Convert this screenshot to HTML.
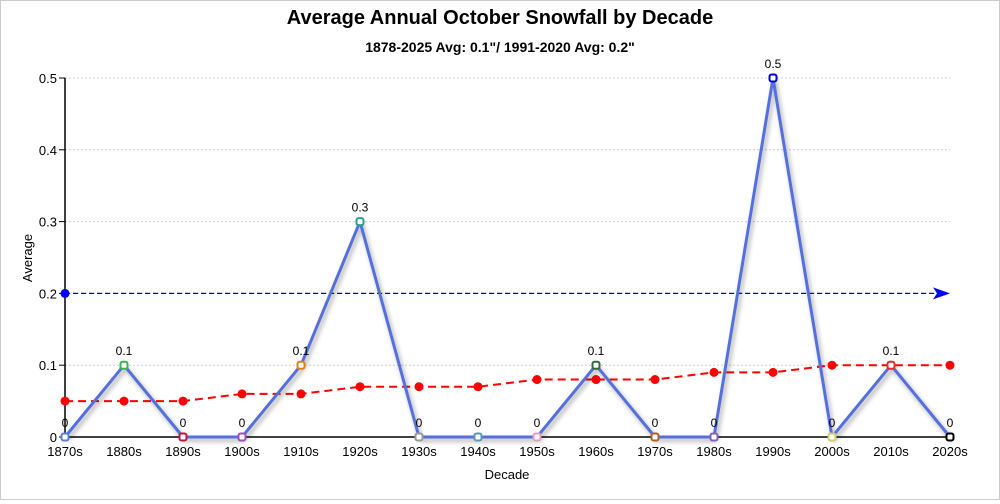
<!DOCTYPE html>
<html><head><meta charset="utf-8"><style>
html,body{margin:0;padding:0;background:#fff}
#c{width:1000px;height:500px;position:relative;box-sizing:border-box;border:1px solid #ccc}
svg text{font-family:"Liberation Sans",sans-serif}
</style></head><body><div id="c"><svg id="s" width="998" height="498" viewBox="1 1 998 498" xmlns="http://www.w3.org/2000/svg">
<defs><filter id="sh" x="-10%" y="-10%" width="120%" height="130%"><feDropShadow dx="2" dy="3" stdDeviation="2.5" flood-color="#000" flood-opacity="0.35"/></filter></defs>
<text x="500" y="24" text-anchor="middle" font-size="20" font-weight="bold" fill="#000">Average Annual October Snowfall by Decade</text>
<text x="500" y="52" text-anchor="middle" font-size="14" font-weight="bold" fill="#000">1878-2025 Avg: 0.1"/ 1991-2020 Avg: 0.2"</text>
<text transform="translate(32,258) rotate(-90)" text-anchor="middle" font-size="13" fill="#000">Average</text>
<text x="507" y="479" text-anchor="middle" font-size="13" fill="#000">Decade</text>
<g id="g"></g>
</svg></div>
<script>
var g=document.getElementById('g'),h='';
function X(i){return 65+i*59.0}
function Y(v){return 437-v*718}
for(var k=0;k<=5;k++){var y=Y(k/10);
 if(k>0)h+='<line x1="65" x2="950" y1="'+y+'" y2="'+y+'" stroke="#ccc" stroke-dasharray="2,2"/>';
 h+='<line x1="59" x2="65" y1="'+y+'" y2="'+y+'" stroke="#000"/>';
 h+='<text x="57" y="'+(y+5)+'" text-anchor="end" font-size="13">'+(k==0?'0':(k/10))+'</text>';}
h+='<line x1="65" x2="65" y1="78" y2="437" stroke="#000" stroke-width="1.5"/><line x1="65" x2="950" y1="437" y2="437" stroke="#000" stroke-width="1.5"/>';
for(var i=0;i<16;i++){h+='<text x="'+X(i)+'" y="456" text-anchor="middle" font-size="13">'+(1870+i*10)+'s</text>';}
var v=[0,0.1,0,0,0.1,0.3,0,0,0,0.1,0,0,0.5,0,0.1,0];
var r=[0.05,0.05,0.05,0.06,0.06,0.07,0.07,0.07,0.08,0.08,0.08,0.09,0.09,0.1,0.1,0.1];
var col=['#5b7fd6','#3cb44b','#c0143c','#a04cc0','#e08010','#2a9d8f','#999','#5a9ab0','#e0a0c0','#2e6b3a','#b06020','#8060c0','#0000e0','#d0d060','#e03030','#000'];
h+='<line x1="65" x2="940" y1="'+Y(0.2)+'" y2="'+Y(0.2)+'" stroke="#0000ff" stroke-width="1.3" stroke-dasharray="5,3"/>';
h+='<circle cx="65" cy="'+Y(0.2)+'" r="4.5" fill="#0000ff"/>';
h+='<path d="M933 '+(Y(0.2)-6)+' L950 '+Y(0.2)+' L933 '+(Y(0.2)+6)+' L937 '+Y(0.2)+'Z" fill="#0000ff"/>';
var p='';for(var i=0;i<16;i++)p+=(i?'L':'M')+X(i)+' '+Y(r[i]);
h+='<path d="'+p+'" fill="none" stroke="#ff0000" stroke-width="2" stroke-dasharray="8,5"/>';
for(var i=0;i<16;i++)h+='<circle cx="'+X(i)+'" cy="'+Y(r[i])+'" r="4.5" fill="#ff0000"/>';
p='';for(var i=0;i<16;i++)p+=(i?'L':'M')+X(i)+' '+Y(v[i]);
h+='<path d="'+p+'" fill="none" stroke="#5470dc" stroke-width="3" stroke-linejoin="round" filter="url(#sh)"/>';
for(var i=0;i<16;i++){h+='<rect x="'+(X(i)-3.5)+'" y="'+(Y(v[i])-3.5)+'" width="7" height="7" rx="2" fill="#fff" stroke="'+col[i]+'" stroke-width="2"/>';
 h+='<text x="'+X(i)+'" y="'+(Y(v[i])-10)+'" text-anchor="middle" font-size="12">'+v[i]+'</text>';}
g.innerHTML=h;
</script></body></html>
